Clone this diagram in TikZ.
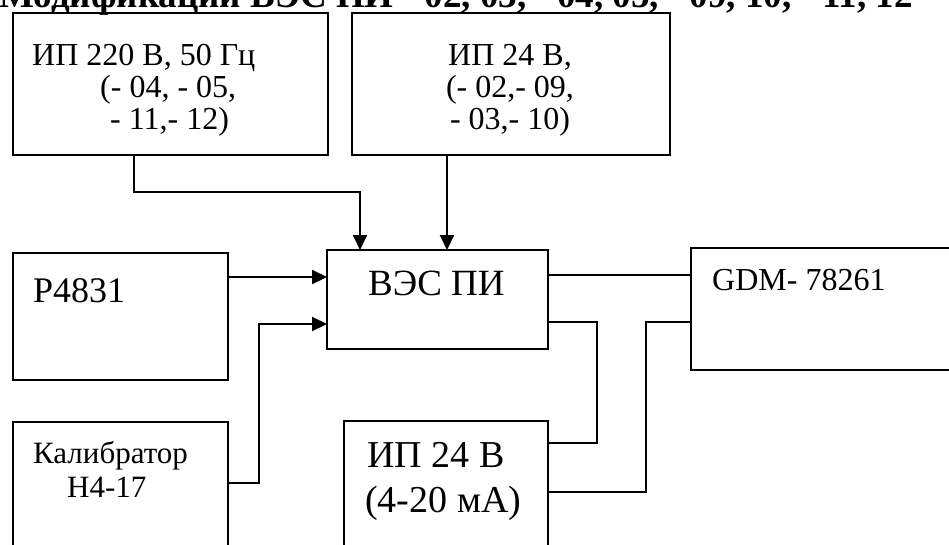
\documentclass[tikz,border=0pt]{standalone}
\usepackage{fontspec}
\setmainfont{Liberation Serif}
\usetikzlibrary{arrows.meta}
\newcommand{\fs}[1]{\fontsize{#1pt}{#1pt}\selectfont}
\begin{document}
\begin{tikzpicture}[x=1pt,y=-1pt,
  box/.style={draw, line width=2.7pt, anchor=north west, inner sep=0pt, outer sep=0pt},
  wire/.style={line width=2.1pt},
  arr/.style={wire, -{Triangle[length=15pt,width=14pt]}},
  txt/.style={anchor=base west, inner sep=0pt},
  ctxt/.style={anchor=base, inner sep=0pt}]
\useasboundingbox (0,0) rectangle (949,544);
\fill[white] (0,0) rectangle (949,544);
\clip (0,0) rectangle (949,544);

% header (cut at the top in the reference)
\node[txt, font=\fs{37}\bfseries] (head) at (-1,7) {Модификации ВЭС ПИ - 02, 03, - 04, 05, - 09, 10, - 11, 12};

% boxes
\node[box, minimum width=315pt, minimum height=142pt] (ip220) at (13,13) {};
\node[box, minimum width=318pt, minimum height=142pt] (ip24a) at (352,13) {};
\node[box, minimum width=221pt, minimum height=99pt] (ves) at (327,250) {};
\node[box, minimum width=215pt, minimum height=127pt] (p4831) at (13,253) {};
\node[box, minimum width=290pt, minimum height=122pt] (gdm) at (691,248) {};
\node[box, minimum width=215pt, minimum height=150pt] (kal) at (13,422) {};
\node[box, minimum width=204pt, minimum height=150pt] (ip24b) at (344,421) {};

% texts
\node[txt, font=\fs{32}] (t220a) at (32,65) {ИП 220 В, 50 Гц};
\node[txt, font=\fs{32}] (t220b) at (100,97) {(- 04, - 05,};
\node[txt, font=\fs{32}] (t220c) at (110,129) {- 11,- 12)};

\node[ctxt, font=\fs{32}] (t24a) at (510,65) {ИП 24 В,};
\node[ctxt, font=\fs{32}] (t24b) at (510,97) {(- 02,- 09,};
\node[ctxt, font=\fs{32}] (t24c) at (510,129) {- 03,- 10)};

\node[txt, font=\fs{37}] (tves) at (368,295) {ВЭС ПИ};
\node[txt, font=\fs{36}] (tp) at (33,302) {Р4831};
\node[txt, font=\fs{32}] (tgdm) at (712,290) {GDM- 78261};
\node[txt, font=\fs{31}] (tkal1) at (33,463) {Калибратор};
\node[txt, font=\fs{31}] (tkal2) at (67,497) {Н4-17};
\node[txt, font=\fs{38}] (tip1) at (367,467) {ИП 24 В};
\node[txt, font=\fs{38}] (tip2) at (365,512) {(4-20 мА)};

% connectors
\draw[arr] ([xshift=121pt]ip220.south west) -- ++(0,37) -| ([xshift=33pt]ves.north west);
\draw[arr] ([xshift=95pt]ip24a.south west) -- ([xshift=95pt]ip24a.south west |- ves.north);
\draw[arr] ([yshift=-24pt]p4831.north east) -- ([yshift=-24pt]p4831.north east -| ves.west);
\draw[arr] ([yshift=-61pt]kal.north east) -- ++(31,0) |- ([yshift=-74pt]ves.north west);
\draw[wire] ([yshift=-25pt]ves.north east) -- ([yshift=-25pt]ves.north east -| gdm.west);
\draw[wire] ([yshift=-72pt]ves.north east) -- ++(49,0) |- ([yshift=-22pt]ip24b.north east);
\draw[wire] ([yshift=-74pt]gdm.north west) -- ++(-45,0) |- ([yshift=-71pt]ip24b.north east);
\end{tikzpicture}
\end{document}
